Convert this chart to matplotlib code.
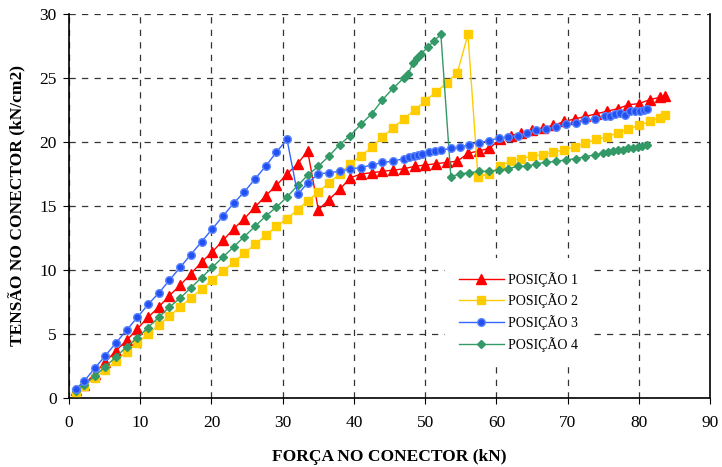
import matplotlib.pyplot as plt

plt.rcParams['font.family'] = ['Liberation Serif', 'DejaVu Serif']

# POSIÇÃO 1
forca_1 = [1.0, 2.1, 3.6, 5.1, 6.6, 8.1, 9.6, 11.1, 12.6, 14.1, 15.6, 17.1, 18.6, 20.1, 21.6, 23.1,
           24.6, 26.1, 27.6, 29.1, 30.6, 32.1, 33.5, 35.0, 36.5, 38.0, 39.5, 41.0, 42.5, 44.0, 45.5,
           47.0, 48.5, 50.0, 51.5, 53.0, 54.5, 56.0, 57.5, 59.0, 60.5, 62.0, 63.5, 65.0, 66.5, 68.0,
           69.5, 71.0, 72.5, 74.0, 75.5, 77.0, 78.5, 80.0, 81.5, 83.0, 83.6]
tensao_1 = [0.6, 1.0, 1.9, 2.8, 3.7, 4.5, 5.4, 6.3, 7.1, 8.0, 8.8, 9.7, 10.6, 11.4, 12.3, 13.2,
            14.0, 14.9, 15.8, 16.6, 17.5, 18.3, 19.3, 14.7, 15.5, 16.3, 17.2, 17.5, 17.6, 17.7, 17.8,
            17.9, 18.1, 18.2, 18.3, 18.4, 18.5, 19.1, 19.3, 19.5, 20.2, 20.5, 20.7, 20.9, 21.1, 21.3,
            21.6, 21.8, 22.0, 22.2, 22.4, 22.6, 22.9, 23.0, 23.3, 23.5, 23.6]

# POSIÇÃO 2
forca_2 = [1.0, 2.1, 3.6, 5.1, 6.6, 8.1, 9.6, 11.1, 12.6, 14.1, 15.6, 17.1, 18.6, 20.1, 21.6, 23.1,
           24.6, 26.1, 27.6, 29.1, 30.6, 32.1, 33.5, 35.0, 36.5, 38.0, 39.5, 41.0, 42.5, 44.0, 45.5,
           47.0, 48.5, 50.0, 51.5, 53.0, 54.5, 56.0, 57.4, 59.0, 60.5, 62.0, 63.5, 65.0, 66.5, 68.0,
           69.5, 71.0, 72.5, 74.0, 75.5, 77.0, 78.5, 80.0, 81.5, 83.0, 83.6]
tensao_2 = [0.45, 0.9, 1.55, 2.2, 2.9, 3.6, 4.3, 5.0, 5.7, 6.4, 7.1, 7.8, 8.5, 9.2, 9.9, 10.6,
            11.3, 12.0, 12.7, 13.4, 14.0, 14.7, 15.4, 16.1, 16.8, 17.5, 18.3, 18.9, 19.6, 20.4, 21.1,
            21.8, 22.5, 23.2, 23.9, 24.6, 25.4, 28.4, 17.3, 17.5, 18.1, 18.5, 18.7, 18.9, 19.0, 19.2,
            19.4, 19.6, 19.9, 20.2, 20.4, 20.7, 21.0, 21.3, 21.6, 21.9, 22.1]

# POSIÇÃO 3
forca_3 = [1.0, 2.1, 3.6, 5.1, 6.6, 8.1, 9.6, 11.1, 12.6, 14.1, 15.6, 17.1, 18.6, 20.1, 21.6, 23.1,
           24.6, 26.1, 27.6, 29.1, 30.6, 32.1, 33.5, 35.0, 36.5, 38.0, 39.5, 41.0, 42.5, 44.0, 45.5,
           47.0, 47.7, 48.4, 49.0, 49.6, 50.5, 51.4, 52.2, 53.6, 54.9, 56.2, 57.6, 58.9, 60.3, 61.6,
           63.0, 64.3, 65.6, 67.0, 68.4, 69.8, 71.1, 72.5, 73.9, 75.2, 76.0, 76.7, 77.4, 78.1, 78.8,
           79.5, 80.1, 80.7, 81.1]
tensao_3 = [0.7, 1.3, 2.3, 3.3, 4.3, 5.3, 6.3, 7.3, 8.2, 9.2, 10.2, 11.2, 12.2, 13.2, 14.2, 15.2,
            16.1, 17.1, 18.1, 19.2, 20.2, 15.9, 16.8, 17.5, 17.6, 17.7, 17.9, 18.0, 18.2, 18.4, 18.5,
            18.7, 18.8, 18.9, 19.0, 19.05, 19.2, 19.3, 19.35, 19.5, 19.6, 19.8, 19.95, 20.1, 20.3, 20.4,
            20.5, 20.7, 20.9, 21.0, 21.2, 21.4, 21.5, 21.7, 21.8, 22.0, 22.05, 22.2, 22.3, 22.1, 22.4,
            22.45, 22.45, 22.5, 22.55]

# POSIÇÃO 4
forca_4 = [1.0, 2.1, 3.6, 5.1, 6.6, 8.1, 9.6, 11.1, 12.6, 14.1, 15.6, 17.1, 18.6, 20.1, 21.6, 23.1,
           24.6, 26.1, 27.6, 29.1, 30.6, 32.1, 33.5, 35.0, 36.5, 38.0, 39.5, 41.0, 42.5, 44.0, 45.5,
           47.0, 47.6, 48.3, 48.9, 49.4, 50.4, 51.2, 52.2, 53.6, 54.9, 56.2, 57.6, 58.9, 60.3, 61.6,
           63.0, 64.3, 65.6, 67.0, 68.4, 69.8, 71.1, 72.5, 73.8, 75.0, 75.7, 76.4, 77.1, 77.8, 78.5,
           79.2, 79.9, 80.5, 81.1]
tensao_4 = [0.5, 1.0, 1.7, 2.45, 3.2, 4.0, 4.7, 5.5, 6.3, 7.1, 7.8, 8.6, 9.4, 10.2, 11.0, 11.8,
            12.6, 13.4, 14.2, 14.9, 15.7, 16.6, 17.4, 18.1, 18.9, 19.8, 20.5, 21.4, 22.2, 23.3, 24.2,
            25.0, 25.3, 26.2, 26.6, 26.9, 27.4, 27.9, 28.4, 17.3, 17.5, 17.6, 17.7, 17.7, 17.8, 17.9,
            18.1, 18.1, 18.3, 18.4, 18.5, 18.6, 18.7, 18.85, 19.0, 19.1, 19.2, 19.3, 19.35, 19.4, 19.5,
            19.55, 19.6, 19.7, 19.8]

fig = plt.figure(figsize=(7.22, 4.67), dpi=100)
ax = fig.add_axes([0.0956, 0.148, 0.888, 0.822])

ax.plot(forca_1, tensao_1, color='#FF0000', lw=1, marker='^', ms=7, label='POSIÇÃO 1', zorder=3)
ax.plot(forca_2, tensao_2, color='#FFCC00', lw=1, marker='s', ms=5.5, label='POSIÇÃO 2', zorder=3)
ax.plot(forca_3, tensao_3, color='#3366FF', lw=1, marker='o', ms=5.5, mfc='#2350f0', mec='#5a86ff',
        label='POSIÇÃO 3', zorder=4)
ax.plot(forca_4, tensao_4, color='#339966', lw=1, marker='D', ms=4.5, label='POSIÇÃO 4', zorder=3)

ax.set_xlim(0, 90)
ax.set_ylim(0, 30)
ax.set_xticks(range(0, 91, 10))
ax.set_yticks(range(0, 31, 5))
ax.grid(True, color='#333333', ls=(0, (5, 5)), lw=0.9)
ax.spines['top'].set_visible(False)
for s in ['left', 'bottom', 'right']:
    ax.spines[s].set_linewidth(1.2)
ax.tick_params(axis='both', labelsize=12.5, direction='out', length=4)
ax.tick_params(axis='x', pad=8)
ax.tick_params(axis='y', pad=5)

ax.set_xlabel('FORÇA NO CONECTOR (kN)', fontsize=12.5, fontweight='bold', labelpad=13)
ax.set_ylabel('TENSÃO NO CONECTOR (kN/cm2)', fontsize=12.5, fontweight='bold', labelpad=9)

leg = ax.legend(loc='upper left', bbox_to_anchor=(0.587, 0.3646), frameon=True, fontsize=10,
                handlelength=3.2, labelspacing=0.48, handletextpad=0.3, borderpad=1.0,
                borderaxespad=0)
leg.get_frame().set_facecolor('white')
leg.get_frame().set_edgecolor('none')
leg.get_frame().set_alpha(1)
leg.set_zorder(5)

plt.savefig('out.png', dpi=100)
